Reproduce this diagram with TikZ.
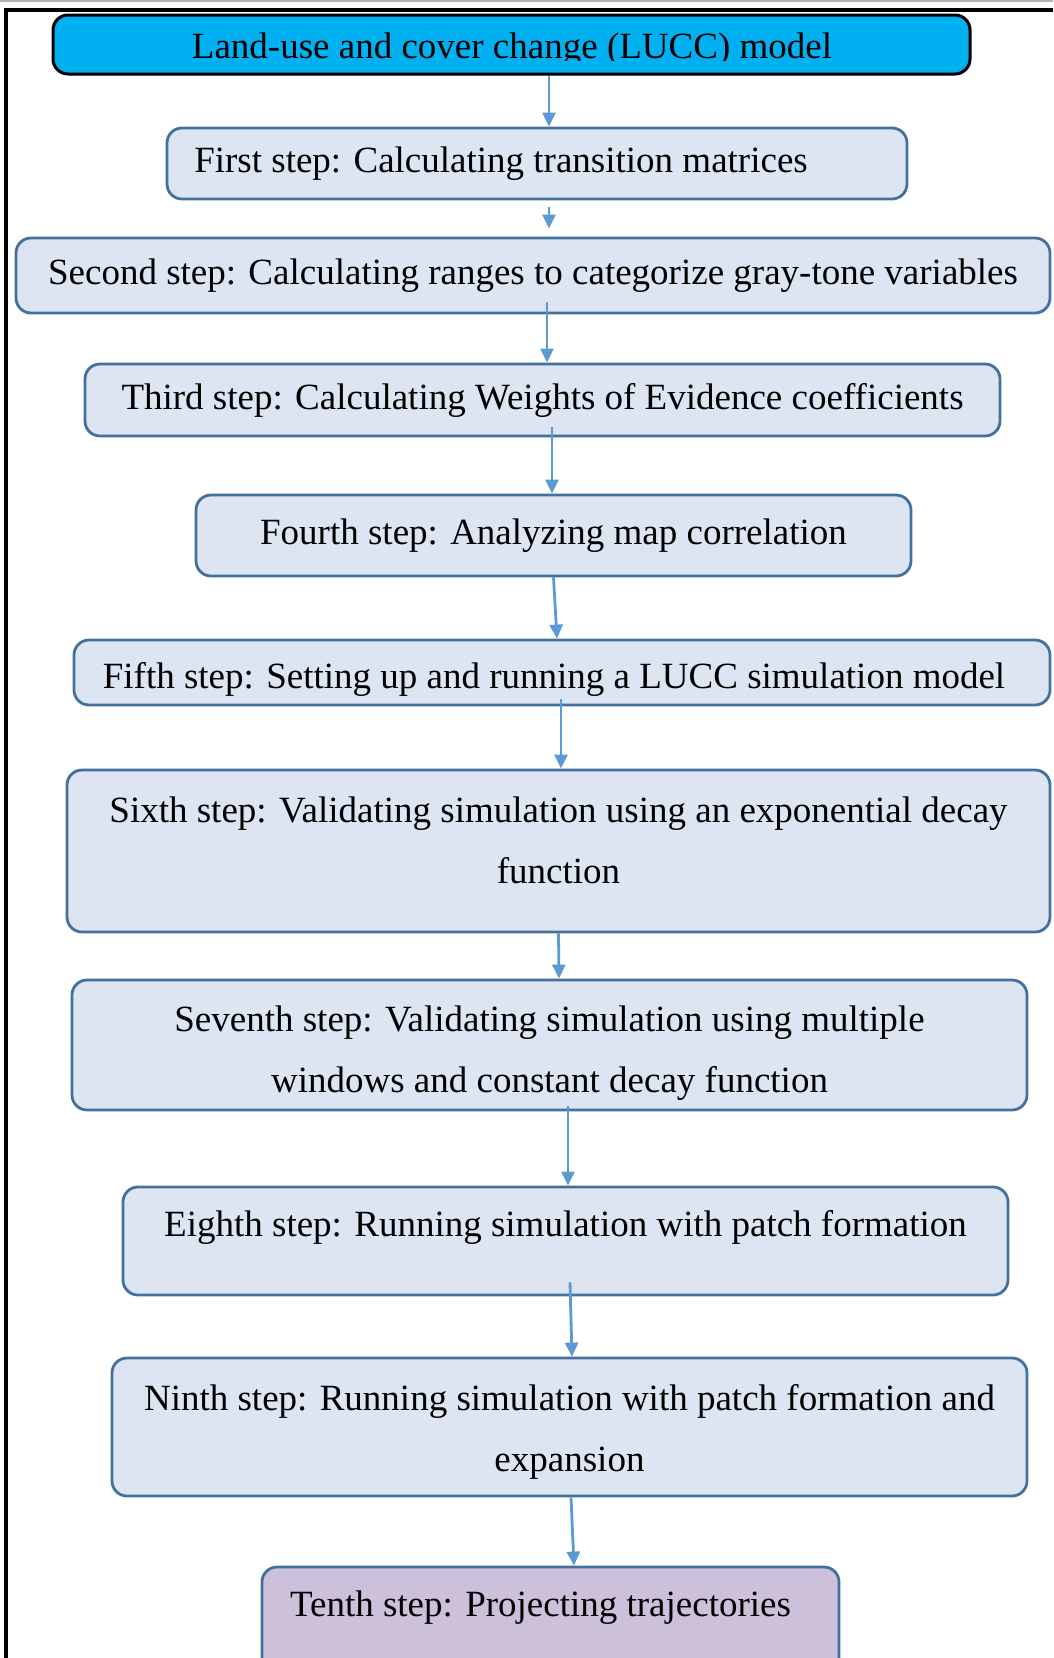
\documentclass[tikz,border=0pt]{standalone}
\usepackage{fontspec}
\setmainfont{Liberation Serif}
\usepackage{xcolor}
\usetikzlibrary{arrows.meta}

\definecolor{boxfill}{RGB}{220,229,241}
\definecolor{boxline}{RGB}{65,113,156}
\definecolor{flowline}{RGB}{91,155,213}
\definecolor{topfill}{RGB}{0,176,240}
\definecolor{endfill}{RGB}{204,192,218}

\tikzset{
  stepbox/.style={draw=boxline, line width=2.8pt, fill=boxfill, rounded corners=15pt,
    align=center, inner sep=0pt},
  flow/.style={draw=flowline, line width=2.8pt, -{Triangle[length=14pt,width=13pt]}},
}

\begin{document}
\begin{tikzpicture}[x=1pt, y=-1pt, font=\fontsize{37}{61}\selectfont]
       \useasboundingbox (0,0) rectangle (1053,1658);
       % frame
       \draw[gray!60, line width=2pt] (0,1) -- (1053,1);
       \draw[black, line width=4pt] (6,1658) -- (6,10) -- (1053,10);

       \node[stepbox, draw=black, line width=3pt, fill=topfill, minimum width=917pt, minimum height=59pt] (t0) at (511.5,44.5) {};
       \begin{scope}
         \clip (0,0) rectangle (1053,60);
         \node (title) at (512,50) {Land-use and cover change (LUCC) model};
       \end{scope}

       \node[stepbox, minimum width=740pt, minimum height=71pt] (b1) at (537,163.5) {First step: Calculating transition matrices\hspace*{72pt}};
       \node[stepbox, minimum width=1034pt, minimum height=75pt] (b2) at (533,275.5) {Second step: Calculating ranges to categorize gray-tone variables};
       \node[stepbox, minimum width=915pt, minimum height=72pt] (b3) at (542.5,400) {Third step: Calculating Weights of Evidence coefficients};
       \node[stepbox, minimum width=715pt, minimum height=81pt] (b4) at (553.5,535.5) {Fourth step: Analyzing map correlation};
       \node[stepbox, minimum width=976pt, minimum height=65pt, text height=39pt, text depth=8pt] (b5) at (562,672.5) {Fifth step: Setting up and running a LUCC simulation model\hspace*{16pt}};
       \node[stepbox, minimum width=983pt, minimum height=162pt] (b6) at (558.5,851) {Sixth step: Validating simulation using an exponential decay\\function\rule[-22pt]{0pt}{1pt}};
       \node[stepbox, minimum width=955pt, minimum height=130pt] (b7) at (549.5,1045) {\rule{0pt}{41pt}Seventh step: Validating simulation using multiple\\windows and constant decay function};
       \node[stepbox, minimum width=885pt, minimum height=108pt, text height=34pt, text depth=44pt] (b8) at (565.5,1241) {Eighth step: Running simulation with patch formation};
       \node[stepbox, minimum width=915pt, minimum height=138pt] (b9) at (569.5,1427) {\rule{0pt}{35pt}Ninth step: Running simulation with patch formation and\\expansion};
       \node[stepbox, fill=endfill, minimum width=577pt, minimum height=120pt, text height=34pt, text depth=56pt] (b10) at (550.5,1627) {Tenth step: Projecting trajectories\hspace*{20pt}};

       \draw[flow] ([xshift=37.5pt]t0.south) -- ([xshift=12pt]b1.north);
       \draw[flow] ([xshift=12pt,yshift=-7pt]b1.south) -- ([xshift=16pt,yshift=8pt]b2.north);
       \draw[flow] ([xshift=14pt,yshift=12pt]b2.south) -- ([xshift=4.5pt]b3.north);
       \draw[flow] ([xshift=9.5pt,yshift=10pt]b3.south) -- ([xshift=-1.5pt]b4.north);
       \draw[flow] (b4.south) -- ([xshift=-5pt]b5.north);
       \draw[flow] ([xshift=-1pt,yshift=7pt]b5.south) -- ([xshift=2.5pt]b6.north);
       \draw[flow] (b6.south) -- ([xshift=9.5pt]b7.north);
       \draw[flow] ([xshift=18.5pt,yshift=5pt]b7.south) -- ([xshift=2.5pt]b8.north);
       \draw[flow] ([xshift=4.5pt,yshift=14pt]b8.south) -- ([xshift=2.5pt]b9.north);
       \draw[flow] ([xshift=1.5pt]b9.south) -- ([xshift=23.5pt]b10.north);
    \end{tikzpicture}
\end{document}
